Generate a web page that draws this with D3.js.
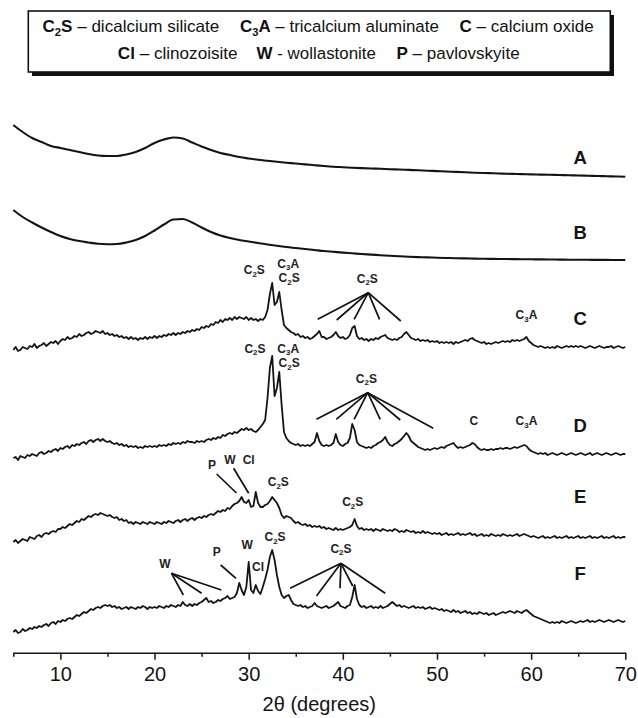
<!DOCTYPE html>
<html>
<head>
<meta charset="utf-8">
<script src="https://cdn.jsdelivr.net/npm/d3@7"></script>
<style>
  body { margin: 0; background: #fff; }
  svg { display: block; }
  text { font-family: "Liberation Sans", Arial, Helvetica, sans-serif; }
</style>
</head>
<body>
<svg id="chart" width="638" height="718"></svg>
<script>
// ---- 2θ sampling of the diffractograms ----
const thetaCoarse = d3.range(5, 70.001, 1);     // samples A, B
const thetaFine   = d3.range(5, 70.001, 0.25);  // samples C–F

// ---- intensities (arbitrary units, above each pattern's own baseline) ----
const sampleA = [55,48,42,38,34,32,30,28,26,24.5, 24,24,25.5,28,32,37,40.5,42.5,41.5,37.5,
  33.5,30,27,25,23,21.5,20.2,19.2,18.2,17.3, 16.5,15.6,14.8,14,13.3,12.8,12.3,11.9,11.5,11.2,
  10.8,10.5,10.1,9.7,9.3,8.9,8.5,8.1,7.7,7.3, 7,6.7,6.4,6.1,5.9,5.6,5.4,5.2,5,4.8,
  4.5,4.3,4,3.8,3.5,3.3];
const sampleB = [52,45,39.5,34.5,30,26,23,21,19.5,18.2, 17.8,18,19.5,22,26,31.5,37.5,42.5,43,39.5,
  34.5,30,26.5,24,22,20.5,19,17.5,16.2,15, 14,13,12,11,10.2,9.4,8.7,8,7.4,6.8,
  6.2,5.7,5.3,4.9,4.6,4.3,4,3.8,3.6,3.4, 3.2,3.1,3,2.9,2.8,2.7,2.6,2.5,2.4,2.3,
  2.2,2.2,2.1,2.1,2,2];
const sampleC = [
  2,5,1,2,5,4,3,6,5,8,4,6,7,9,6,8,10,9,11,8,
  11,13,12,15,13,14,16,15,18,16,17,19,20,18,19,21,20,19,21,18,
  19,17,18,16,17,15,16,14,15,13,15,13,14,12,14,13,15,13,15,14,
  16,14,16,15,17,16,18,17,19,17,19,18,20,19,21,20,22,21,23,22,
  25,24,26,25,28,27,30,29,32,30,33,32,34,32,35,33,35,34,33,35,
  32,34,32,33,31,33,32,35,42,58,69,47,50,60,42,27,24,22,20,19,
  17,18,15,16,14,15,13,14,16,18,21,15,15,13,14,15,17,20,16,14,
  15,13,14,17,24,26,16,13,14,12,13,11,13,12,14,13,15,16,17,14,
  13,12,13,12,14,15,18,20,17,14,13,12,13,11,12,11,12,10,11,10,
  11,9,10,9,10,9,10,8,10,9,10,11,12,11,13,14,12,11,10,9,
  10,8,9,8,9,10,9,10,11,10,11,10,12,11,12,11,12,13,15,11,
  9,7,6,5,6,5,4,5,4,5,4,6,5,4,5,6,5,6,5,6,
  5,6,5,4,5,6,5,4,5,6,5,4,5,5,6,4,5,6,5,4,5];
const sampleD = [
  2,3,0,4,3,2,5,4,6,5,4,7,8,6,7,9,8,10,11,9,
  12,11,13,14,12,15,14,16,15,17,18,16,19,20,18,20,21,19,21,19,
  18,19,17,16,17,15,16,14,15,13,14,13,14,12,13,12,14,13,14,13,
  14,13,15,14,15,14,16,15,17,16,17,16,18,17,19,18,18,17,19,18,
  19,18,20,21,20,22,21,23,22,25,24,26,27,26,28,27,29,31,30,32,
  30,31,29,28,30,33,36,40,62,92,104,64,72,88,55,28,22,19,17,16,
  15,16,14,15,14,15,14,16,18,27,19,15,14,15,14,15,17,26,18,15,
  14,16,17,22,36,30,18,15,14,13,12,13,12,14,15,17,18,20,23,18,
  15,14,16,17,19,21,24,27,24,19,17,15,13,12,11,10,11,10,11,12,
  11,12,13,12,14,15,16,17,14,12,13,12,13,14,15,17,16,13,11,10,
  11,10,10,11,10,11,11,12,11,12,12,11,12,13,12,13,14,15,14,11,
  9,8,7,6,7,6,7,5,6,7,6,5,6,7,6,5,6,7,6,5,
  6,7,6,5,6,7,5,6,7,6,5,6,7,6,5,6,7,6,5,6,6];
const sampleE = [
  3,5,2,4,6,5,4,8,7,6,9,10,8,11,12,11,13,14,13,16,
  16,18,17,19,21,20,22,24,23,26,25,27,29,28,30,31,30,32,31,30,
  29,30,28,27,28,25,26,24,25,22,23,21,23,22,21,23,22,21,23,22,
  21,23,22,21,23,22,24,23,22,24,25,23,25,26,24,26,27,25,27,28,
  27,29,28,30,31,30,32,34,33,35,34,37,36,39,41,42,44,48,43,42,
  45,38,39,53,42,38,38,40,41,44,48,45,42,37,30,27,29,28,27,24,
  22,23,21,20,21,19,20,18,19,18,19,17,18,16,17,16,15,17,15,16,
  15,16,17,18,20,26,19,16,17,15,16,15,16,14,16,15,14,16,15,14,
  15,14,16,15,13,14,13,15,14,13,14,12,13,12,14,12,13,12,11,12,
  11,12,10,11,12,10,11,10,11,12,10,11,10,11,12,10,11,9,10,11,
  9,10,9,11,10,9,10,9,11,10,9,10,9,10,11,9,10,11,10,9,
  8,9,8,7,8,9,7,8,7,8,9,7,8,7,8,9,7,8,7,8,
  9,7,8,7,8,9,7,8,7,8,9,7,8,7,8,9,7,8,7,8,8];
const sampleF = [
  3,5,2,3,6,4,5,7,6,8,7,9,8,10,11,9,12,13,11,14,
  13,15,14,16,17,16,18,20,19,21,23,22,24,26,25,27,28,27,29,30,
  29,30,28,29,27,28,26,27,28,26,28,27,26,28,27,29,28,26,28,27,
  28,27,29,28,27,29,28,30,29,28,30,29,33,30,29,31,29,31,30,32,
  33,35,37,33,34,32,33,35,34,36,37,39,36,37,38,42,52,45,40,48,
  73,45,42,50,44,41,48,56,65,78,85,75,60,48,40,37,39,40,35,31,
  30,29,30,28,29,27,28,29,32,29,28,27,28,29,27,28,29,31,33,29,
  28,27,29,30,38,50,36,30,28,29,27,28,29,27,28,27,29,27,28,29,
  31,33,31,29,30,28,29,28,27,28,29,27,28,27,28,26,27,28,26,27,
  26,25,26,24,25,24,23,25,23,24,22,23,24,22,23,21,22,21,23,22,
  21,22,20,21,22,20,21,22,23,22,23,24,23,22,24,23,22,24,25,23,
  21,19,18,17,16,15,14,13,12,13,12,13,12,14,13,12,13,14,13,12,
  13,14,13,14,15,13,14,13,14,15,14,13,14,15,14,13,14,15,14,13,14];

const sampleNames = ["A", "B", "C", "D", "E", "F"];

// ---- phase legend ----
const legendSymbols = ["C2S", "C3A", "C", "Cl", "W", "P"];
const legendDashes  = ["–", "–", "–", "–", "-", "–"];
const legendNames   = ["dicalcium silicate", "tricalcium aluminate", "calcium oxide",
                       "clinozoisite", "wollastonite", "pavlovskyite"];

// ---- x-axis ticks ----
const tickValues = d3.range(5, 71, 5);
const tickLabels = [10, 20, 30, 40, 50, 60, 70];

// ---- peak assignments: [sample, phase, 2θ, intensity] ----
const peakLabels = [
  ["C", "C2S", 30.6, 82], ["C", "C3A", 34.2, 88.7], ["C", "C2S", 34.3, 74],
  ["C", "C2S", 42.6, 73.7], ["C", "C3A", 59.5, 37],
  ["D", "C2S", 30.67, 111.7], ["D", "C3A", 34.2, 111.7], ["D", "C2S", 34.3, 97.3],
  ["D", "C2S", 42.5, 81.7], ["D", "C", 53.9, 39], ["D", "C3A", 59.5, 39],
  ["E", "P", 26.1, 80], ["E", "W", 28.0, 85], ["E", "Cl", 30.0, 85],
  ["E", "C2S", 33.15, 63.3], ["E", "C2S", 41.05, 43.3],
  ["F", "W", 21.1, 71.7], ["F", "P", 26.6, 83.3], ["F", "W", 29.85, 90],
  ["F", "Cl", 31.0, 68.3], ["F", "C2S", 32.8, 98.3], ["F", "C2S", 39.8, 86.7]
];

// ---- leader lines: [sample, [apex 2θ, intensity], [[end 2θ, intensity], ...]] ----
const leaders = [
  ["C", [42.7, 59.3], [[37.33, 32.7], [39.35, 32], [41.2, 32.7], [43.9, 32.7], [46.15, 31]]],
  ["D", [42.64, 67.3], [[37.2, 40.7], [39.3, 40.7], [41.2, 40.7], [43.97, 40.7], [46.1, 40], [49.6, 31.7]]],
  ["E", [26.6, 71], [[28.7, 52]]],
  ["E", [28.4, 76.7], [[30.0, 51.7]]],
  ["F", [21.8, 61.7], [[23.06, 40], [25.0, 41.7], [27.1, 45]]],
  ["F", [27.03, 70], [[28.65, 56.7]]],
  ["F", [39.8, 71.7], [[34.4, 46.7], [37.2, 39], [39.7, 46.7], [41.05, 49], [44.5, 41.7]]]
];

// ---- layout ----
const axisY = 652.7;
const baseY = { A: 180, B: 262, C: 352, D: 460, E: 545, F: 635 };
const nameTheta = 65.2;
const nameLevel = { A: 23, B: 29.3, C: 33.7, D: 35, E: 49, F: 62 };
const ink = "#141414";

const svg = d3.select("#chart");
const x = d3.scaleLinear().domain([5, 70]).range([13.3, 625.3]);
const yOf = {};
sampleNames.forEach(n => {
  yOf[n] = d3.scaleLinear().domain([0, 100]).range([baseY[n], baseY[n] - 100]);
});

// text with numeric subscripts (C2S -> C₂S)
function richText(sel, str, fs) {
  const shift = fs * 0.24;
  let down = false;
  for (const ch of str) {
    const isDigit = /[0-9]/.test(ch);
    const t = sel.append("tspan").text(ch);
    if (isDigit) {
      t.attr("font-size", fs * 0.66).attr("dy", down ? 0 : shift);
      down = true;
    } else {
      t.attr("font-size", fs);
      if (down) { t.attr("dy", -shift); down = false; }
    }
  }
}

// ---- legend box ----
const lg = svg.append("g");
lg.append("rect").attr("x", 32).attr("y", 15).attr("width", 582).attr("height", 61)
  .attr("fill", "#111");
lg.append("rect").attr("x", 28.3).attr("y", 11).attr("width", 582).attr("height", 61)
  .attr("fill", "#fff").attr("stroke", "#111").attr("stroke-width", 1.6);

const legendRows = [0, 0, 0, 1, 1, 1];
const legendX0 = [42.5, 240, 459.5, 117.8, 256.6, 396.5];
const legendX1 = [219.5, 439, 593.8, 237.8, 376.1, 519.7];
const legendBase = [32, 59];
const legendSize = 16.5;
legendSymbols.forEach((s, i) => {
  const t = lg.append("text").attr("x", legendX0[i]).attr("y", legendBase[legendRows[i]])
    .attr("fill", "#111");
  const b = t.append("tspan").attr("font-weight", "bold");
  richText(b, s, legendSize);
  t.append("tspan").attr("font-size", legendSize).text(" " + legendDashes[i] + " " + legendNames[i]);
  const w = t.node().getComputedTextLength();
  const sx = (legendX1[i] - legendX0[i]) / w;
  t.attr("transform", `translate(${legendX0[i]},0) scale(${sx},1) translate(${-legendX0[i]},0)`);
});

// ---- patterns ----
const series = {
  A: thetaCoarse.map((t, i) => [t, sampleA[i]]),
  B: thetaCoarse.map((t, i) => [t, sampleB[i]]),
  C: thetaFine.map((t, i) => [t, sampleC[i]]),
  D: thetaFine.map((t, i) => [t, sampleD[i]]),
  E: thetaFine.map((t, i) => [t, sampleE[i]]),
  F: thetaFine.map((t, i) => [t, sampleF[i]])
};
sampleNames.forEach(n => {
  const smooth = n === "A" || n === "B";
  const line = d3.line()
    .x(d => x(d[0])).y(d => yOf[n](d[1]))
    .curve(smooth ? d3.curveMonotoneX : d3.curveLinear);
  svg.append("path").datum(series[n]).attr("d", line)
    .attr("fill", "none").attr("stroke", ink)
    .attr("stroke-width", smooth ? 2.1 : 1.8)
    .attr("stroke-linejoin", "round");
});

// ---- sample names ----
sampleNames.forEach(n => {
  svg.append("text").attr("x", x(nameTheta)).attr("y", yOf[n](nameLevel[n]) + 6.5)
    .attr("text-anchor", "middle").attr("font-size", 18.5).attr("font-weight", "bold")
    .attr("fill", ink).text(n);
});

// ---- peak assignments ----
peakLabels.forEach(([n, s, th, v]) => {
  const t = svg.append("text").attr("x", x(th)).attr("y", yOf[n](v) + 4.3)
    .attr("text-anchor", "middle").attr("font-weight", "bold").attr("fill", "#222");
  richText(t, s, 12);
});
leaders.forEach(([n, apex, ends]) => {
  ends.forEach(e => {
    svg.append("line")
      .attr("x1", x(apex[0])).attr("y1", yOf[n](apex[1]))
      .attr("x2", x(e[0])).attr("y2", yOf[n](e[1]))
      .attr("stroke", "#111").attr("stroke-width", 1.7);
  });
});

// ---- x axis ----
const axis = d3.axisBottom(x).tickValues(tickValues).tickSize(7).tickSizeOuter(0)
  .tickPadding(7.5).tickFormat(d => tickLabels.includes(d) ? d : "");
const ax = svg.append("g").attr("transform", `translate(0,${axisY})`).call(axis);
ax.select(".domain").attr("stroke", ink).attr("stroke-width", 1.6);
ax.selectAll(".tick line").attr("stroke", ink).attr("stroke-width", 1.5)
  .attr("y2", d => tickLabels.includes(d) ? 7 : 4);
ax.selectAll(".tick text").attr("font-size", 20).attr("fill", ink)
  .attr("font-family", "'Liberation Sans', Arial, sans-serif");

svg.append("text").attr("x", (x(5) + x(70)) / 2).attr("y", 711)
  .attr("text-anchor", "middle").attr("font-size", 20).attr("fill", ink)
  .text("2θ (degrees)");
</script>
</body>
</html>
